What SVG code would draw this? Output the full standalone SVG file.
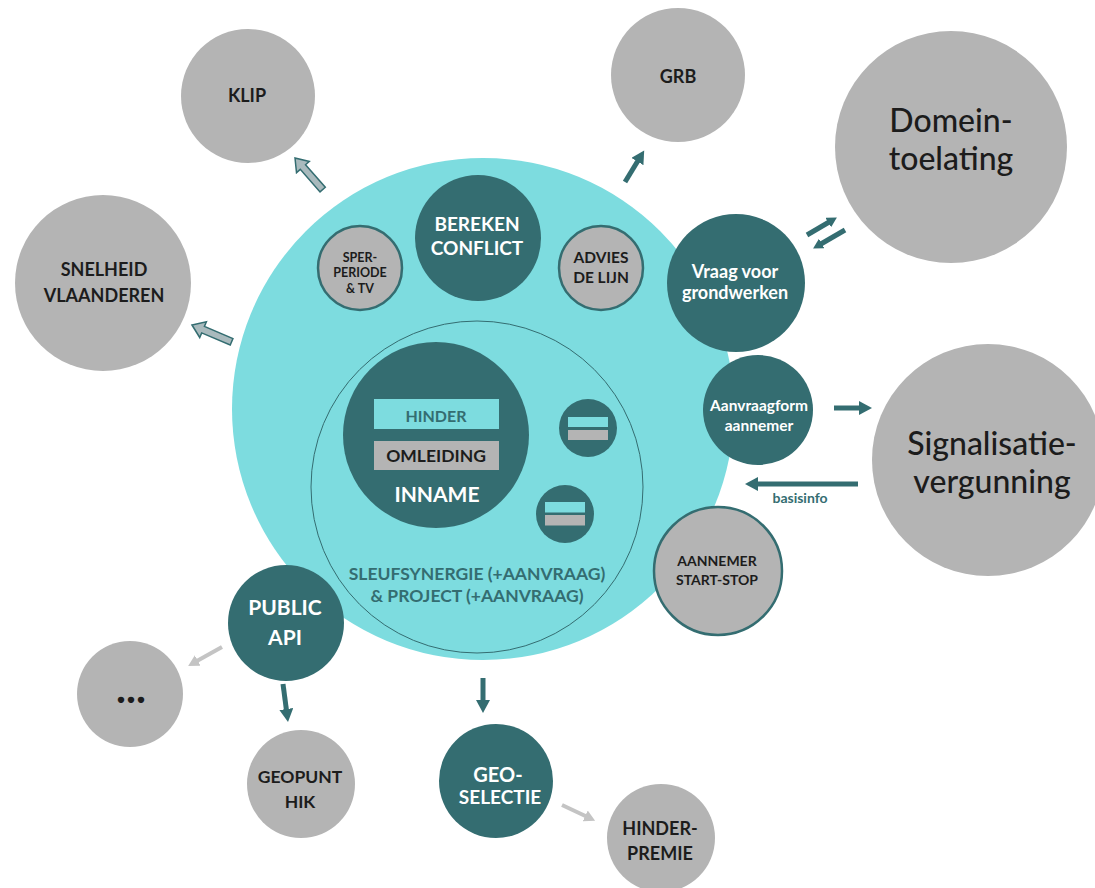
<svg xmlns="http://www.w3.org/2000/svg" width="1095" height="888" viewBox="0 0 1095 888">
<style>
text{font-family:Lato,"Open Sans","DejaVu Sans",sans-serif;font-weight:700;text-anchor:middle}
.gray{fill:#b4b4b4}
.teal{fill:#346d71}
.ring{fill:#b4b4b4;stroke:#346d71;stroke-width:2.5}
.dk{fill:#1c1c1c}
.wt{fill:#ffffff}
.tt{fill:#346d71}
.big{font-weight:500;font-size:32px}
.sol{stroke:#346d71;stroke-width:5;fill:none}
.lgt{stroke:#c4c4c4;stroke-width:4;fill:none}
.hol{fill:#a9babd;stroke:#346d71;stroke-width:1.5;stroke-linejoin:miter}
</style>
<defs>
<marker id="ah" markerUnits="userSpaceOnUse" markerWidth="14" markerHeight="14" viewBox="0 0 14 14" refX="3" refY="7" orient="auto">
<path d="M0,0 L13,7 L0,14 Z" fill="#346d71"/>
</marker>
<marker id="ahs" markerUnits="userSpaceOnUse" markerWidth="11" markerHeight="11" viewBox="0 0 11 11" refX="2" refY="5.5" orient="auto">
<path d="M0,0 L10,5.5 L0,11 Z" fill="#346d71"/>
</marker>
<marker id="ahg" markerUnits="userSpaceOnUse" markerWidth="12" markerHeight="12" viewBox="0 0 12 12" refX="2" refY="6" orient="auto">
<path d="M0,0 L11,6 L0,12 Z" fill="#c4c4c4"/>
</marker>
</defs>

<g id="hub">
<circle cx="483" cy="409" r="251" fill="#7ddcdf"/>
<circle cx="477" cy="487" r="166" fill="none" stroke="#346d71" stroke-width="1"/>
</g>

<g id="connectors">
<path class="hol" transform="translate(295,158) rotate(-131.2)" d="M0,0 L-12,-8.5 L-12,-3.5 L-42,-3.5 L-42,3.5 L-12,3.5 L-12,8.5 Z"/>
<path class="hol" transform="translate(192,325) rotate(-157)" d="M0,0 L-12,-8.5 L-12,-3.5 L-43,-3.5 L-43,3.5 L-12,3.5 L-12,8.5 Z"/>
<line class="sol" x1="625" y1="182" x2="639" y2="159" marker-end="url(#ah)"/>
<line class="sol" stroke-width="4" x1="807" y1="235" x2="830" y2="221.5" marker-end="url(#ahs)"/>
<line class="sol" stroke-width="4" x1="845" y1="230" x2="820" y2="244.5" marker-end="url(#ahs)"/>
<line class="sol" x1="834" y1="408" x2="862" y2="408" marker-end="url(#ah)"/>
<line class="sol" x1="858" y1="484" x2="755" y2="484" marker-end="url(#ah)"/>
<text class="tt" x="800" y="503" font-size="14" font-weight="500">basisinfo</text>
<line class="lgt" x1="222" y1="647" x2="196" y2="661.5" marker-end="url(#ahg)"/>
<line class="sol" x1="283" y1="684" x2="286.7" y2="712" marker-end="url(#ah)"/>
<line class="sol" x1="483" y1="678" x2="483" y2="703" marker-end="url(#ah)"/>
<line class="lgt" x1="562" y1="805" x2="587" y2="816.8" marker-end="url(#ahg)"/>
</g>

<g id="klip"><circle class="gray" cx="248" cy="96" r="67"/><text class="dk" x="247" y="102" font-size="18">KLIP</text></g>
<g id="snelheid"><circle class="gray" cx="103" cy="283" r="88"/><text class="dk" x="104" y="276" font-size="18">SNELHEID</text><text class="dk" x="104" y="302" font-size="18">VLAANDEREN</text></g>
<g id="grb"><circle class="gray" cx="678" cy="75" r="67"/><text class="dk" x="678" y="83" font-size="18">GRB</text></g>
<g id="domein"><circle class="gray" cx="951" cy="147" r="116"/><text class="dk big" x="951" y="132">Domein-</text><text class="dk big" x="951" y="170">toelating</text></g>
<g id="signalisatie"><circle class="gray" cx="988" cy="460" r="116"/><text class="dk big" x="992" y="455">Signalisatie-</text><text class="dk big" x="992" y="493">vergunning</text></g>

<g id="sperperiode"><circle class="ring" cx="360" cy="268" r="42"/><text class="dk" x="360" y="262" font-size="12.5">SPER-</text><text class="dk" x="360" y="277" font-size="12.5">PERIODE</text><text class="dk" x="360" y="293" font-size="12.5">&amp; TV</text></g>
<g id="bereken"><circle class="teal" cx="478" cy="238" r="63"/><text class="wt" x="477" y="231" font-size="19">BEREKEN</text><text class="wt" x="477" y="255" font-size="19">CONFLICT</text></g>
<g id="advies"><circle class="ring" cx="601" cy="268" r="42"/><text class="dk" x="601" y="263" font-size="15.5">ADVIES</text><text class="dk" x="601" y="283" font-size="15.5">DE LIJN</text></g>
<g id="vraag"><circle class="teal" cx="736" cy="283" r="69"/><text class="wt" x="735" y="278" font-size="18" font-weight="600">Vraag voor</text><text class="wt" x="735" y="299" font-size="18" font-weight="600">grondwerken</text></g>
<g id="aanvraagform"><circle class="teal" cx="758" cy="410" r="55"/><text class="wt" x="759" y="411" font-size="15.5">Aanvraagform</text><text class="wt" x="759" y="431" font-size="15.5">aannemer</text></g>
<g id="aannemer"><circle class="ring" cx="718" cy="571" r="64"/><text class="dk" x="717" y="566" font-size="14">AANNEMER</text><text class="dk" x="717" y="585" font-size="14">START-STOP</text></g>

<g id="inname"><circle class="teal" cx="436" cy="435" r="93"/>
<rect x="374" y="399" width="125" height="30" fill="#7ddcdf"/><text class="tt" x="436" y="422" font-size="16">HINDER</text>
<rect x="374" y="441" width="125" height="29" fill="#b4b4b4"/><text class="dk" x="436" y="462" font-size="17.5">OMLEIDING</text>
<text class="wt" x="437" y="502" font-size="21">INNAME</text></g>
<g id="mini1"><circle class="teal" cx="588" cy="428" r="29"/><rect x="568" y="417" width="40" height="10" fill="#7ddcdf"/><rect x="568" y="430" width="40" height="10" fill="#b4b4b4"/></g>
<g id="mini2"><circle class="teal" cx="565" cy="514" r="29"/><rect x="545" y="502" width="40" height="10.5" fill="#7ddcdf"/><rect x="545" y="515" width="40" height="10.5" fill="#b4b4b4"/></g>
<g id="sleuf"><text class="tt" x="477" y="580" font-size="17.5" font-weight="600">SLEUFSYNERGIE (+AANVRAAG)</text><text class="tt" x="477" y="602" font-size="17.5" font-weight="600">&amp; PROJECT (+AANVRAAG)</text></g>

<g id="publicapi"><circle class="teal" cx="286" cy="623" r="58"/><text class="wt" x="285" y="615" font-size="21">PUBLIC</text><text class="wt" x="285" y="645" font-size="21">API</text></g>
<g id="dots"><circle class="gray" cx="130" cy="694" r="53"/><text class="dk" x="131" y="703" font-size="42" font-weight="900">...</text></g>
<g id="geopunt"><circle class="gray" cx="301" cy="784" r="54"/><text class="dk" x="300" y="783" font-size="17.5">GEOPUNT</text><text class="dk" x="300" y="808" font-size="17.5">HIK</text></g>
<g id="geoselectie"><circle class="teal" cx="496" cy="781" r="57"/><text class="wt" x="498" y="782" font-size="20">GEO-</text><text class="wt" x="500" y="804" font-size="19">SELECTIE</text></g>
<g id="hinderpremie"><circle class="gray" cx="661" cy="838" r="54"/><text class="dk" x="660" y="835" font-size="18">HINDER-</text><text class="dk" x="660" y="860" font-size="18">PREMIE</text></g>
</svg>
